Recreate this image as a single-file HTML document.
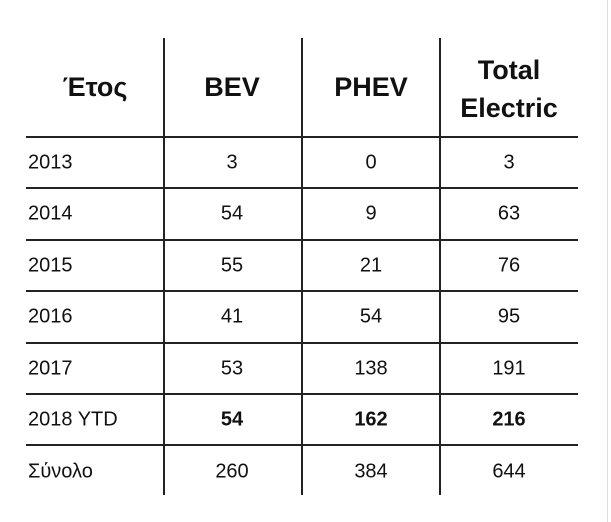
<!DOCTYPE html>
<html><head><meta charset="utf-8"><style>
body{margin:0;width:611px;height:522px;background:#fff;position:relative;overflow:hidden;font-family:"Liberation Sans",sans-serif;color:#111}
.v{position:absolute;width:2px;background:#222;top:38px;height:457px}
.h{position:absolute;height:2px;background:#222;left:26px;width:552px}
.t{position:absolute;font-size:20px;transform:translate(-50%,-50%);white-space:nowrap}
.l{position:absolute;font-size:20px;left:28px;transform:translateY(-50%)}
.hd{font-weight:bold;font-size:27px;text-align:center;line-height:38px}
</style></head><body>
<div style="position:absolute;left:607px;top:0;width:1px;height:522px;background:#ddd"></div>
<div class="v" style="left:163px"></div>
<div class="v" style="left:301px"></div>
<div class="v" style="left:439px"></div>
<div class="h" style="top:136px"></div>
<div class="h" style="top:187px"></div>
<div class="h" style="top:239px"></div>
<div class="h" style="top:290px"></div>
<div class="h" style="top:342px"></div>
<div class="h" style="top:393px"></div>
<div class="h" style="top:444px"></div>
<div class="t hd" style="left:95px;top:87px">Έτος</div>
<div class="t hd" style="left:232px;top:87px">BEV</div>
<div class="t hd" style="left:371px;top:87px">PHEV</div>
<div class="t hd" style="left:509px;top:89px">Total<br>Electric</div>

<div class="l" style="top:163px">2013</div><div class="t" style="left:232px;top:163px">3</div><div class="t" style="left:371px;top:163px">0</div><div class="t" style="left:509px;top:163px">3</div>
<div class="l" style="top:214px">2014</div><div class="t" style="left:232px;top:214px">54</div><div class="t" style="left:371px;top:214px">9</div><div class="t" style="left:509px;top:214px">63</div>
<div class="l" style="top:266px">2015</div><div class="t" style="left:232px;top:266px">55</div><div class="t" style="left:371px;top:266px">21</div><div class="t" style="left:509px;top:266px">76</div>
<div class="l" style="top:317px">2016</div><div class="t" style="left:232px;top:317px">41</div><div class="t" style="left:371px;top:317px">54</div><div class="t" style="left:509px;top:317px">95</div>
<div class="l" style="top:369px">2017</div><div class="t" style="left:232px;top:369px">53</div><div class="t" style="left:371px;top:369px">138</div><div class="t" style="left:509px;top:369px">191</div>
<div class="l" style="top:420px">2018 YTD</div><div class="t" style="left:232px;top:420px;font-weight:bold">54</div><div class="t" style="left:371px;top:420px;font-weight:bold">162</div><div class="t" style="left:509px;top:420px;font-weight:bold">216</div>
<div class="l" style="top:472px">Σύνολο</div><div class="t" style="left:232px;top:472px">260</div><div class="t" style="left:371px;top:472px">384</div><div class="t" style="left:509px;top:472px">644</div>
</body></html>
